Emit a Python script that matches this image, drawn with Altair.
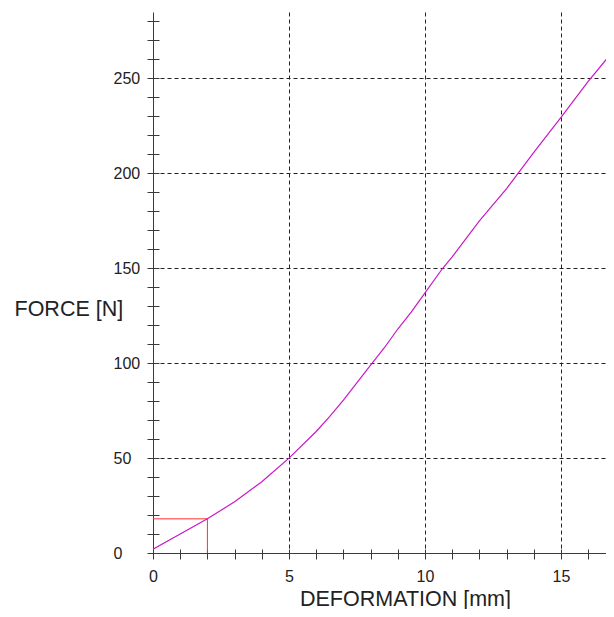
import altair as alt
import pandas as pd

# Curve data
deform = [0, 1, 2, 3, 4, 5, 6, 6.5, 7, 8, 8.5, 9, 9.5, 10, 10.65, 11, 12, 13, 14, 15, 16, 16.95]
force = [2, 10, 18, 27, 37.5, 50, 64, 72, 80.5, 99, 108, 118, 127, 137, 150, 156, 175, 192, 211, 229.5, 248.5, 265]

# Marker lines (red)
marker_x = 2
marker_y = 18

x_ticks = list(range(0, 17))
y_ticks = list(range(0, 290, 10))
x_grid = [5, 10, 15]
y_grid = [50, 100, 150, 200, 250]

W, H = 453, 541
X_DOMAIN = [0, 453 / 27.2]
Y_DOMAIN = [0, 285]
FONT = "Liberation Sans"
AXC = "#3a3a3a"

curve_df = pd.DataFrame({"x": deform, "y": force})
marker_df = pd.DataFrame({
    "x": [0, marker_x],
    "x2": [marker_x, marker_x],
    "y": [marker_y, 0],
    "y2": [marker_y, marker_y],
})

xs = alt.Scale(domain=X_DOMAIN, nice=False, zero=False)
ys = alt.Scale(domain=Y_DOMAIN, nice=False, zero=False)

curve = alt.Chart(curve_df).mark_line(color="#c818c8", strokeWidth=1.2, clip=True).encode(
    x=alt.X("x:Q", scale=xs, axis=alt.Axis(
        orient="bottom", values=x_ticks, offset=-4, tickSize=10, tickColor=AXC, tickWidth=1,
        domain=False, grid=False,
        labelExpr="datum.value % 5 == 0 ? datum.label : ''",
        labelFont=FONT, labelFontSize=16, labelColor="#222", labelPadding=17,
        labelBaseline="middle", labelFlush=False, labelOverlap=False,
        title="DEFORMATION [mm]", titleFont=FONT, titleFontSize=21.5, titleFontWeight="normal",
        titleColor="#222", titleX=252, titleY=56, titleAlign="center", titleBaseline="alphabetic",
    )),
    y=alt.Y("y:Q", scale=ys, axis=alt.Axis(
        orient="left", values=y_ticks, offset=-6, tickSize=12, tickColor=AXC, tickWidth=1,
        domain=False, grid=False,
        labelExpr="datum.value % 50 == 0 ? datum.label : ''",
        labelFont=FONT, labelFontSize=16, labelColor="#222", labelPadding=34,
        labelAlign="left", labelBaseline="middle", labelFlush=False, labelOverlap=False,
        title="FORCE [N]", titleFont=FONT, titleFontSize=21.5, titleFontWeight="normal",
        titleColor="#222", titleAngle=0, titleX=-145, titleY=297, titleAlign="left",
        titleBaseline="middle",
    )),
)

markers = alt.Chart(marker_df).mark_rule(color="#ff3030", strokeWidth=1).encode(
    x=alt.X("x:Q", scale=xs, axis=alt.Axis(
        orient="bottom", values=x_grid, grid=True, gridDash=[4, 3], gridColor="#222",
        gridWidth=1, ticks=False, labels=False, domain=True, domainColor=AXC, title=None,
    )),
    x2="x2:Q",
    y=alt.Y("y:Q", scale=ys, axis=alt.Axis(
        orient="left", values=y_grid, grid=True, gridDash=[4, 3], gridColor="#222",
        gridWidth=1, ticks=False, labels=False, domain=True, domainColor=AXC, title=None,
    )),
    y2="y2:Q",
)

chart = alt.layer(markers, curve).resolve_scale(
    x="shared", y="shared"
).resolve_axis(
    x="independent", y="independent"
).properties(
    width=W, height=H,
    autosize=alt.AutoSizeParams(type="none"),
    padding={"left": 145, "top": 4, "right": 0, "bottom": 56},
    background="white",
).configure_view(stroke=None)

chart.save("out.html", embed_options={"renderer": "svg", "actions": False})
